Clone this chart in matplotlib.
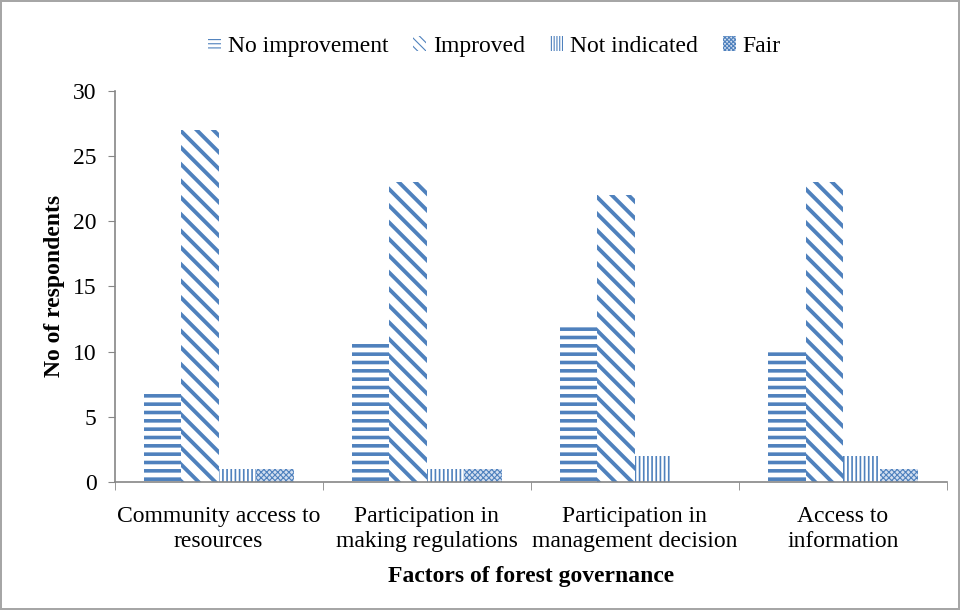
import numpy as np
import matplotlib.pyplot as plt
from matplotlib.patches import Patch
from matplotlib.ticker import FixedLocator

# Data
categories = ["Community access to\nresources",
              "Participation in\nmaking regulations",
              "Participation in\nmanagement decision",
              "Access to\ninformation"]
series = ["No improvement", "Improved", "Not indicated", "Fair"]
no_improvement = [7, 10.7, 12, 10]
improved = [27, 23, 22, 23]
not_indicated = [1, 1, 2, 2]
fair = [1, 1, 0, 1]

values = [no_improvement, improved, not_indicated, fair]
hatches = ["--", "\\\\", "||||", "xxxxxx"]
legend_hatches = ["----", "\\\\\\\\", "||||||", "xxxxxxxx"]
hatch_lw = [2.6, 2.8, 1.2, 0.8]
faces = ["white", "white", "white", "#d3dff0"]
blue = "#4F81BD"

plt.rcParams["font.family"] = ["Liberation Serif", "DejaVu Serif"]

fig = plt.figure(figsize=(9.6, 6.1), dpi=100)
fig.patch.set_edgecolor("#a6a6a6")
fig.patch.set_linewidth(1.5)
ax = fig.add_axes([0.1193, 0.2098, 0.8672, 0.6418])

x = np.arange(len(categories))
width = 0.18
handles = []
for i, (name, vals) in enumerate(zip(series, values)):
    plt.rcParams["hatch.linewidth"] = hatch_lw[i]
    bars = ax.bar(x + (i - 1.5) * width, vals, width, label=name,
                  facecolor=faces[i], edgecolor=blue, hatch=hatches[i],
                  linewidth=0)
    for b in bars:
        if hasattr(b, "set_hatch_linewidth"):
            b.set_hatch_linewidth(hatch_lw[i])
    h = Patch(facecolor=faces[i], edgecolor=blue, hatch=legend_hatches[i],
              linewidth=0, label=name)
    if hasattr(h, "set_hatch_linewidth"):
        h.set_hatch_linewidth(hatch_lw[i] * 0.8)
    handles.append(h)

ax.set_xlim(-0.5, len(categories) - 0.5)
ax.set_ylim(0, 30)
ax.set_yticks(range(0, 31, 5))
ax.set_xticks(x)
ax.set_xticklabels(categories, fontsize=17, linespacing=1.25)
ax.xaxis.set_minor_locator(FixedLocator(np.arange(-0.5, len(categories), 1)))
ax.tick_params(axis="x", which="major", length=0, pad=17)
ax.tick_params(axis="x", which="minor", length=6, color="#868686", direction="out")
ax.tick_params(axis="y", labelsize=17, length=5, color="#868686", pad=8)

for s in ["top", "right"]:
    ax.spines[s].set_visible(False)
for s in ["left", "bottom"]:
    ax.spines[s].set_color("#868686")
    ax.spines[s].set_linewidth(1.2)

ax.set_ylabel("No of respondents", fontsize=17, fontweight="bold", labelpad=6)
ax.set_xlabel("Factors of forest governance", fontsize=17, fontweight="bold", labelpad=10)

fig.legend(handles=handles, loc="center", bbox_to_anchor=(0.515, 0.924), ncol=4,
           frameon=False, fontsize=17, handlelength=0.55, handleheight=0.55,
           handletextpad=0.3, columnspacing=1.05)

fig.savefig("out.png", dpi=100)
